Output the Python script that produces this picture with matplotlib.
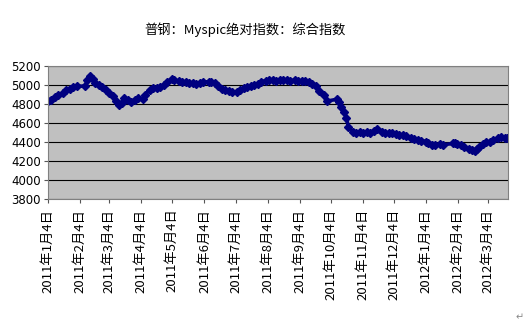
import matplotlib
matplotlib.use("Agg")
import matplotlib.pyplot as plt
import pandas as pd

plt.rcParams['font.family'] = ['Noto Sans CJK SC', 'DejaVu Sans']

# 读图估计的数据
dates = [
    "2011-01-04", "2011-01-07", "2011-01-11", "2011-01-14", "2011-01-18", "2011-01-21",
    "2011-01-25", "2011-01-28", "2011-02-01", "2011-02-09", "2011-02-11", "2011-02-14",
    "2011-02-16", "2011-02-18", "2011-02-22", "2011-02-25", "2011-03-01", "2011-03-04",
    "2011-03-08", "2011-03-11", "2011-03-14", "2011-03-16", "2011-03-18", "2011-03-22",
    "2011-03-25", "2011-03-29", "2011-04-01", "2011-04-06", "2011-04-08", "2011-04-12",
    "2011-04-15", "2011-04-19", "2011-04-22", "2011-04-26", "2011-04-29", "2011-05-04",
    "2011-05-06", "2011-05-10", "2011-05-13", "2011-05-17", "2011-05-20", "2011-05-24",
    "2011-05-27", "2011-05-31", "2011-06-03", "2011-06-08", "2011-06-10", "2011-06-14",
    "2011-06-17", "2011-06-21", "2011-06-24", "2011-06-28", "2011-07-01", "2011-07-05",
    "2011-07-08", "2011-07-12", "2011-07-15", "2011-07-19", "2011-07-22", "2011-07-26",
    "2011-07-29", "2011-08-02", "2011-08-05", "2011-08-09", "2011-08-12", "2011-08-16",
    "2011-08-19", "2011-08-23", "2011-08-26", "2011-08-30", "2011-09-02", "2011-09-06",
    "2011-09-09", "2011-09-13", "2011-09-16", "2011-09-20", "2011-09-23", "2011-09-27",
    "2011-09-30", "2011-10-10", "2011-10-12", "2011-10-14", "2011-10-17", "2011-10-19",
    "2011-10-21", "2011-10-25", "2011-10-28", "2011-11-01", "2011-11-04", "2011-11-08",
    "2011-11-11", "2011-11-15", "2011-11-18", "2011-11-22", "2011-11-25", "2011-11-29",
    "2011-12-02", "2011-12-06", "2011-12-09", "2011-12-13", "2011-12-16", "2011-12-20",
    "2011-12-23", "2011-12-27", "2011-12-30", "2012-01-04", "2012-01-06", "2012-01-10",
    "2012-01-13", "2012-01-17", "2012-01-20", "2012-01-30", "2012-02-01", "2012-02-03",
    "2012-02-07", "2012-02-10", "2012-02-14", "2012-02-17", "2012-02-20", "2012-02-22",
    "2012-02-24", "2012-02-28", "2012-03-02", "2012-03-06", "2012-03-09", "2012-03-13",
    "2012-03-16", "2012-03-20", "2012-03-22",
]
values = [
    4830, 4845, 4870, 4890, 4915, 4945,
    4960, 4975, 4985, 4990, 5050, 5090,
    5060, 5020, 5000, 4975, 4945, 4920,
    4880, 4830, 4790, 4810, 4860, 4840,
    4825, 4845, 4860, 4855, 4900, 4950,
    4970, 4965, 4975, 5000, 5030, 5060,
    5050, 5040, 5035, 5030, 5020, 5025,
    5010, 5020, 5030, 5035, 5030, 5020,
    4985, 4960, 4950, 4935, 4925, 4930,
    4950, 4965, 4975, 4985, 5000, 5015,
    5035, 5045, 5055, 5050, 5045, 5050,
    5055, 5050, 5045, 5050, 5045, 5040,
    5045, 5030, 5015, 4985, 4940, 4890,
    4830, 4850, 4820, 4770, 4720, 4650,
    4560, 4510, 4500, 4505, 4490, 4505,
    4500, 4520, 4535, 4510, 4500, 4495,
    4490, 4480, 4475, 4470, 4460, 4445,
    4435, 4425, 4415, 4405, 4385, 4370,
    4370, 4375, 4370, 4385, 4390, 4380,
    4365, 4350, 4330, 4315, 4310, 4330,
    4350, 4375, 4395, 4400, 4420, 4440,
    4450, 4445, 4445,
]

tick_dates = pd.date_range("2011-01-01", "2012-03-01", freq="MS") + pd.Timedelta(days=3)
tick_labels = [f"{d.year}年{d.month}月{d.day}日" for d in tick_dates]

x = pd.to_datetime(dates)

fig = plt.figure(figsize=(5.29, 3.27), dpi=100)
ax = fig.add_axes([48 / 529, 1 - 199 / 327, 460 / 529, 133 / 327])
ax.set_facecolor("#C0C0C0")

ax.plot(x, values, color="#000080", lw=2.6, marker="D", markersize=4.2)

ax.set_ylim(3800, 5200)
ax.set_yticks(range(3800, 5201, 200))
ax.set_xlim(pd.Timestamp("2011-01-04"), pd.Timestamp("2012-03-23"))
ax.set_xticks(tick_dates)
ax.set_xticklabels(tick_labels, rotation=90, fontsize=9.5)
ax.grid(axis="y", color="black", lw=0.8)
ax.set_axisbelow(True)

for lab in ax.get_yticklabels():
    lab.set_fontfamily("DejaVu Sans")
    lab.set_fontsize(8.5)
ax.tick_params(axis="x", direction="out", length=3, pad=4, color="#555555")
ax.tick_params(axis="y", direction="out", length=3, pad=2, color="#555555")
for s in ["top", "right", "left", "bottom"]:
    ax.spines[s].set_color("#808080")

fig.text(245 / 529, 1 - 30 / 327, "普钢：Myspic绝对指数：综合指数", ha="center", va="center", fontsize=9.5)
fig.text(520 / 529, 1 - 317 / 327, "↵", ha="center", va="center", fontsize=7,
         color="#888888", family="DejaVu Sans")

fig.savefig("out.png", dpi=100)
